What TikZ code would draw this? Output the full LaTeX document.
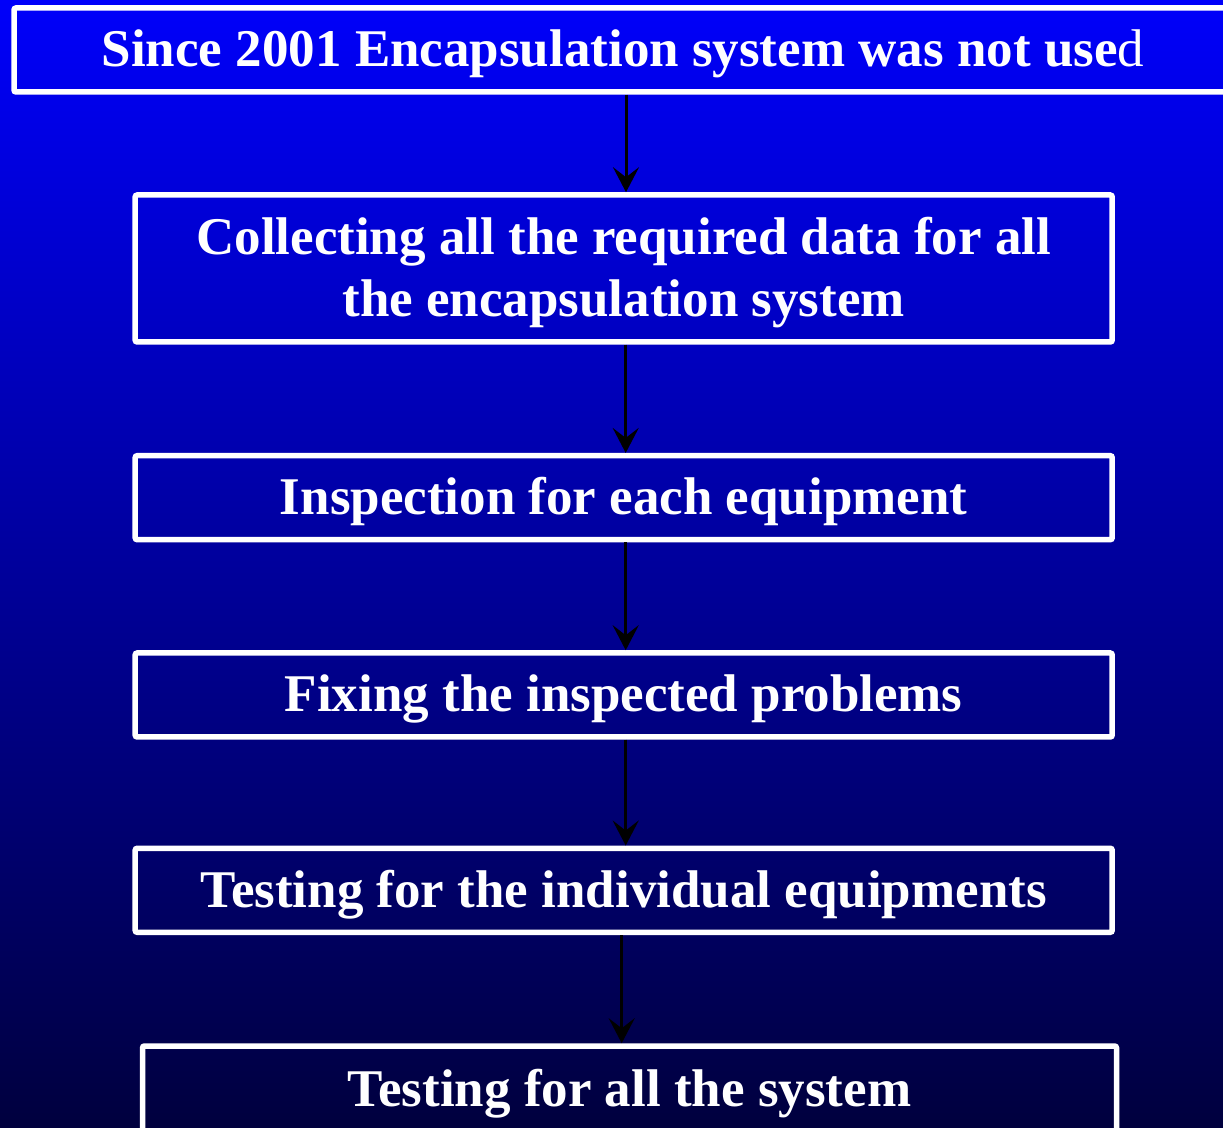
\documentclass[tikz,border=0pt]{standalone}
\usepackage{fontspec}
\setmainfont{Liberation Serif}
\usetikzlibrary{arrows.meta}
\definecolor{bgtop}{RGB}{0,0,250}
\definecolor{bgbottom}{RGB}{0,0,62}

\begin{document}
\begin{tikzpicture}[x=1pt,y=1pt,font=\fontsize{53}{62}\selectfont\bfseries,
stepbox/.style={draw=white,line width=5.5pt,text=white,align=center,inner sep=0pt,rounded corners=2pt,minimum height=84pt,text height=46pt,text depth=12pt},
arr/.style={-{Stealth[length=25pt,width=26pt,inset=10pt]},line width=3pt,draw=black}]

\shade[top color=bgtop,bottom color=bgbottom](0,0)rectangle(1223,1127);
\useasboundingbox(0,0)rectangle(1223,1127);
\node[stepbox,minimum width=1218pt](start)at(623,1077){Since 2001 Encapsulation system was not use\textmd{d}};
\node[stepbox,minimum width=977pt,minimum height=147pt,text height=108pt](collect)at(623.7,858.5){Collecting all the required data for all\\the encapsulation system};
\node[stepbox,minimum width=977pt](inspect)at(623.7,629.3){Inspection for each equipment};
\node[stepbox,minimum width=977pt](fix)at(623.7,432){Fixing the inspected problems};
\node[stepbox,minimum width=977pt](testeq)at(623.7,236.7){Testing for the individual equipments};
\node[stepbox,minimum width=974pt,minimum height=86pt](testall)at(629.5,38){Testing for all the system};
\draw[arr]([xshift=3pt]start.south)--([xshift=3pt]start.south|-collect.north);
\draw[arr]([xshift=2pt]collect.south)--([xshift=2pt]collect.south|-inspect.north);
\draw[arr]([xshift=2pt]inspect.south)--([xshift=2pt]inspect.south|-fix.north);
\draw[arr]([xshift=2pt]fix.south)--([xshift=2pt]fix.south|-testeq.north);
\draw[arr]([xshift=-2pt]testeq.south)--([xshift=-2pt]testeq.south|-testall.north);
\end{tikzpicture}
\end{document}
